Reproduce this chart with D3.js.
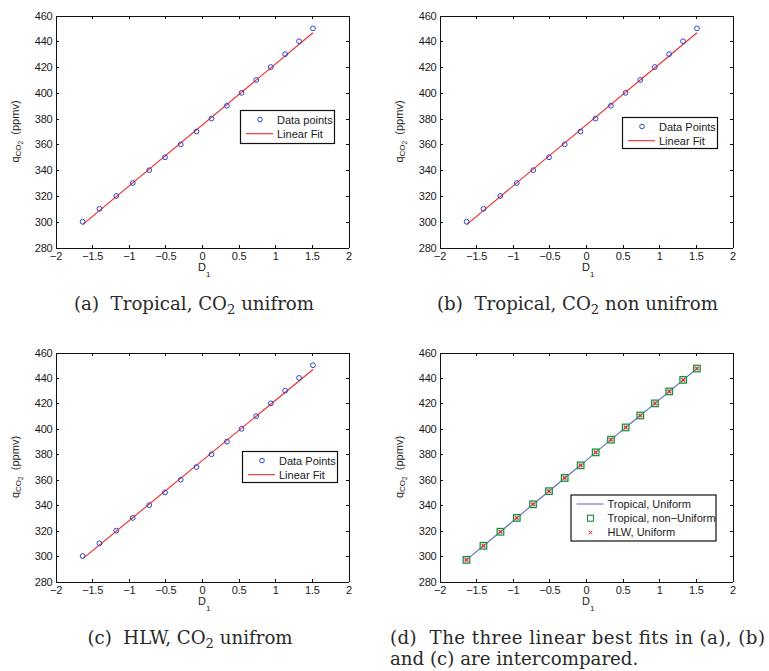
<!DOCTYPE html>
<html><head><meta charset="utf-8">
<script src="https://cdn.jsdelivr.net/npm/d3@7"></script>
<style>
body{margin:0;background:#fff}
svg{display:block}
.ax text{font-family:"Liberation Sans",Arial,sans-serif;font-size:11px;fill:#1a1a1a}
.ax path,.ax line{stroke:#111;stroke-width:1;shape-rendering:crispEdges}
.lab{font-family:"Liberation Sans",Arial,sans-serif;fill:#1a1a1a}
.cap{font-family:"DejaVu Serif",serif;fill:#2a2a2a}
</style>
</head><body>
<svg id="c" width="769" height="671"></svg>
<script>
// ---------------- data ----------------
const xTicks = [-2, -1.5, -1, -0.5, 0, 0.5, 1, 1.5, 2];
const yTicks = [280, 300, 320, 340, 360, 380, 400, 420, 440, 460];

// panels (a),(b),(c): D1 vs q_CO2 data points
const xD1 = [-1.63, -1.40, -1.17, -0.945, -0.72, -0.505, -0.29, -0.075, 0.13, 0.34, 0.54, 0.74, 0.94, 1.135, 1.325, 1.515];
const yCO2 = [300, 310, 320, 330, 340, 350, 360, 370, 380, 390, 400, 410, 420, 430, 440, 450];
// linear fit (end points)
const fitX = [-1.63, 1.515];
const fitY = [297.8, 446.6];

// panel (d): three fitted series
const dX = [-1.632, -1.40, -1.168, -0.945, -0.723, -0.505, -0.291, -0.073, 0.132, 0.341, 0.541, 0.741, 0.941, 1.136, 1.327, 1.514];
const dTropUniformY    = [297.0, 308.1, 319.1, 330.0, 340.7, 351.0, 361.4, 371.3, 381.5, 391.5, 401.1, 410.5, 420.0, 429.4, 438.5, 447.4];
const dTropNonUniformY = [297.0, 308.1, 319.1, 330.0, 340.7, 351.0, 361.4, 371.3, 381.5, 391.5, 401.1, 410.5, 420.0, 429.4, 438.5, 447.4];
const dHlwUniformY     = [297.0, 308.1, 319.1, 330.0, 340.7, 351.0, 361.4, 371.3, 381.5, 391.5, 401.1, 410.5, 420.0, 429.4, 438.5, 447.4];

const legendA = ["Data points", "Linear Fit"];
const legendB = ["Data Points", "Linear Fit"];
const legendC = ["Data Points", "Linear Fit"];
const legendD = ["Tropical, Uniform", "Tropical, non\u2212Uniform", "HLW, Uniform"];

// ---------------- drawing ----------------
const svg = d3.select("#c");
const BLUE = "#2c44c2", RED = "#f02525", LBLUE = "#5d76c6", GREEN = "#1e8a3c", XRED = "#ee1c2a";
const fmt = d => d < 0 ? "\u2212" + Math.abs(d) : String(d);

function panel(p) {
  const g = svg.append("g");
  const x = d3.scaleLinear().domain([-2, 2]).range([p.x0, p.x1]);
  const y = d3.scaleLinear().domain([280, 460]).range([p.y1, p.y0]);
  g.append("rect").attr("x", p.x0).attr("y", p.y0).attr("width", p.x1 - p.x0).attr("height", p.y1 - p.y0).attr("fill", "#fff");
  g.append("g").attr("class", "ax").attr("transform", `translate(0,${p.y1})`)
    .call(d3.axisBottom(x).tickValues(xTicks).tickSizeInner(-3).tickSizeOuter(0).tickPadding(5).tickFormat(fmt));
  g.append("g").attr("class", "ax").attr("transform", `translate(0,${p.y0})`)
    .call(d3.axisTop(x).tickValues(xTicks).tickSizeInner(-3).tickSizeOuter(0).tickFormat(""));
  g.append("g").attr("class", "ax").attr("transform", `translate(${p.x0},0)`)
    .call(d3.axisLeft(y).tickValues(yTicks).tickSizeInner(-3).tickSizeOuter(0).tickPadding(3).tickFormat(d3.format("d")));
  g.append("g").attr("class", "ax").attr("transform", `translate(${p.x1},0)`)
    .call(d3.axisRight(y).tickValues(yTicks).tickSizeInner(-3).tickSizeOuter(0).tickFormat(""));
  g.selectAll(".ax text").attr("letter-spacing", "-0.2");

  // x label D_1
  const cx = (p.x0 + p.x1) / 2;
  const xl = g.append("text").attr("class", "lab").attr("x", cx - 4).attr("y", p.y1 + 23.5).attr("font-size", 11);
  xl.append("tspan").text("D");
  xl.append("tspan").attr("font-size", 8).attr("dy", 6).text("1");

  // y label q_CO2 (ppmv)
  const cy = (p.y0 + p.y1) / 2;
  const yl = g.append("text").attr("class", "lab").attr("font-size", 11)
    .attr("transform", `translate(${p.x0 - 37},${cy}) rotate(-90)`).attr("text-anchor", "middle");
  yl.append("tspan").text("q");
  yl.append("tspan").attr("font-size", 8).attr("dy", 2).text("CO");
  yl.append("tspan").attr("font-size", 6.5).attr("dy", 2.5).text("2");
  yl.append("tspan").attr("dy", -4.5).text("\u00a0 (ppmv)");

  return { g, x, y };
}

function legend(g, bx, by, bw, bh, items) {
  const lg = g.append("g").attr("transform", `translate(${bx},${by})`);
  lg.append("rect").attr("width", bw).attr("height", bh).attr("fill", "#fff").attr("stroke", "#111").attr("stroke-width", 1.2);
  items.forEach((it, i) => {
    const ry = 9 + 14.2 * i;
    if (it.type === "line") {
      lg.append("line").attr("x1", 5.5).attr("x2", 32.5).attr("y1", ry).attr("y2", ry).attr("stroke", it.color).attr("stroke-width", 1.1);
    } else if (it.type === "circle") {
      lg.append("circle").attr("cx", 19.5).attr("cy", ry).attr("r", 2.3).attr("fill", "none").attr("stroke", it.color).attr("stroke-width", 1);
    } else if (it.type === "square") {
      lg.append("rect").attr("x", 19.5 - 3).attr("y", ry - 3).attr("width", 6).attr("height", 6).attr("fill", "none").attr("stroke", it.color).attr("stroke-width", 1.1);
    } else if (it.type === "x") {
      lg.append("path").attr("d", `M${19.5 - 1.8},${ry - 1.8}L${19.5 + 1.8},${ry + 1.8}M${19.5 - 1.8},${ry + 1.8}L${19.5 + 1.8},${ry - 1.8}`).attr("stroke", it.color).attr("stroke-width", 1);
    }
    lg.append("text").attr("class", "lab").attr("font-size", 11).attr("x", 36.5).attr("y", ry + 4).text(it.label);
  });
}

function scatterFit(p, legPos, labels) {
  const { g, x, y } = panel(p);
  const line = d3.line().x(d => x(d[0])).y(d => y(d[1]));
  g.append("path").attr("d", line(d3.zip(fitX, fitY))).attr("fill", "none").attr("stroke", RED).attr("stroke-width", 1.1);
  g.selectAll(null).data(d3.zip(xD1, yCO2)).join("circle")
    .attr("cx", d => x(d[0])).attr("cy", d => y(d[1])).attr("r", 2.4)
    .attr("fill", "none").attr("stroke", BLUE).attr("stroke-width", 1);
  legend(g, legPos[0], legPos[1], legPos[2], legPos[3], [
    { type: "circle", color: BLUE, label: labels[0] },
    { type: "line", color: RED, label: labels[1] }
  ]);
}

const PA = { x0: 55.5, x1: 348.5, y0: 15.5, y1: 247.5 };
const PB = { x0: 439.5, x1: 732.5, y0: 15.5, y1: 247.5 };
const PC = { x0: 55.5, x1: 348.5, y0: 352.5, y1: 581.5 };
const PD = { x0: 439.5, x1: 732.5, y0: 352.5, y1: 581.5 };

scatterFit(PA, [240.5, 110.5, 94, 33], legendA);
scatterFit(PB, [622.5, 117.5, 95, 31], legendB);
scatterFit(PC, [242.5, 451.5, 95, 31], legendC);

// panel (d)
(function () {
  const { g, x, y } = panel(PD);
  const line = d3.line().x(d => x(d[0])).y(d => y(d[1]));
  g.append("path").attr("d", line(d3.zip(dX, dTropUniformY))).attr("fill", "none").attr("stroke", LBLUE).attr("stroke-width", 1.2);
  g.selectAll(null).data(d3.zip(dX, dTropNonUniformY)).join("rect")
    .attr("x", d => x(d[0]) - 3.3).attr("y", d => y(d[1]) - 3.3).attr("width", 6.6).attr("height", 6.6)
    .attr("fill", "#a9d6b2").attr("fill-opacity", 0.55).attr("stroke", GREEN).attr("stroke-width", 1.2);
  g.selectAll(null).data(d3.zip(dX, dHlwUniformY)).join("path")
    .attr("d", d => { const cx = x(d[0]), cy = y(d[1]), s = 1.7; return `M${cx - s},${cy - s}L${cx + s},${cy + s}M${cx - s},${cy + s}L${cx + s},${cy - s}`; })
    .attr("stroke", XRED).attr("stroke-width", 1.1);
  legend(g, 571, 495, 145, 46, [
    { type: "line", color: LBLUE, label: legendD[0] },
    { type: "square", color: GREEN, label: legendD[1] },
    { type: "x", color: XRED, label: legendD[2] }
  ]);
})();

// ---------------- captions ----------------
function caption(cx, by, parts, fs) {
  const t = svg.append("text").attr("class", "cap").attr("x", cx).attr("y", by).attr("font-size", fs).attr("text-anchor", "middle");
  parts.forEach(pt => {
    if (pt.sub) {
      t.append("tspan").attr("font-size", fs * 0.72).attr("dy", 4).text(pt.t);
    } else {
      t.append("tspan").attr("dy", pt.after ? -4 : 0).text(pt.t);
    }
  });
  return t;
}
const FS = 18.2;
caption(194, 309.5, [{ t: "(a)\u00a0\u00a0Tropical, CO" }, { t: "2", sub: true }, { t: " unifrom", after: true }], FS);
caption(577.5, 309.5, [{ t: "(b)\u00a0\u00a0Tropical, CO" }, { t: "2", sub: true }, { t: " non unifrom", after: true }], FS);
caption(190, 644, [{ t: "(c)\u00a0\u00a0HLW, CO" }, { t: "2", sub: true }, { t: " unifrom", after: true }], FS);
svg.append("text").attr("class", "cap").attr("x", 390).attr("y", 644).attr("font-size", FS)
  .attr("textLength", 375).attr("lengthAdjust", "spacing")
  .text("(d)\u00a0\u00a0The three linear best fits in (a), (b)");
svg.append("text").attr("class", "cap").attr("x", 390).attr("y", 665).attr("font-size", FS)
  .text("and (c) are intercompared.");
</script>
</body></html>
